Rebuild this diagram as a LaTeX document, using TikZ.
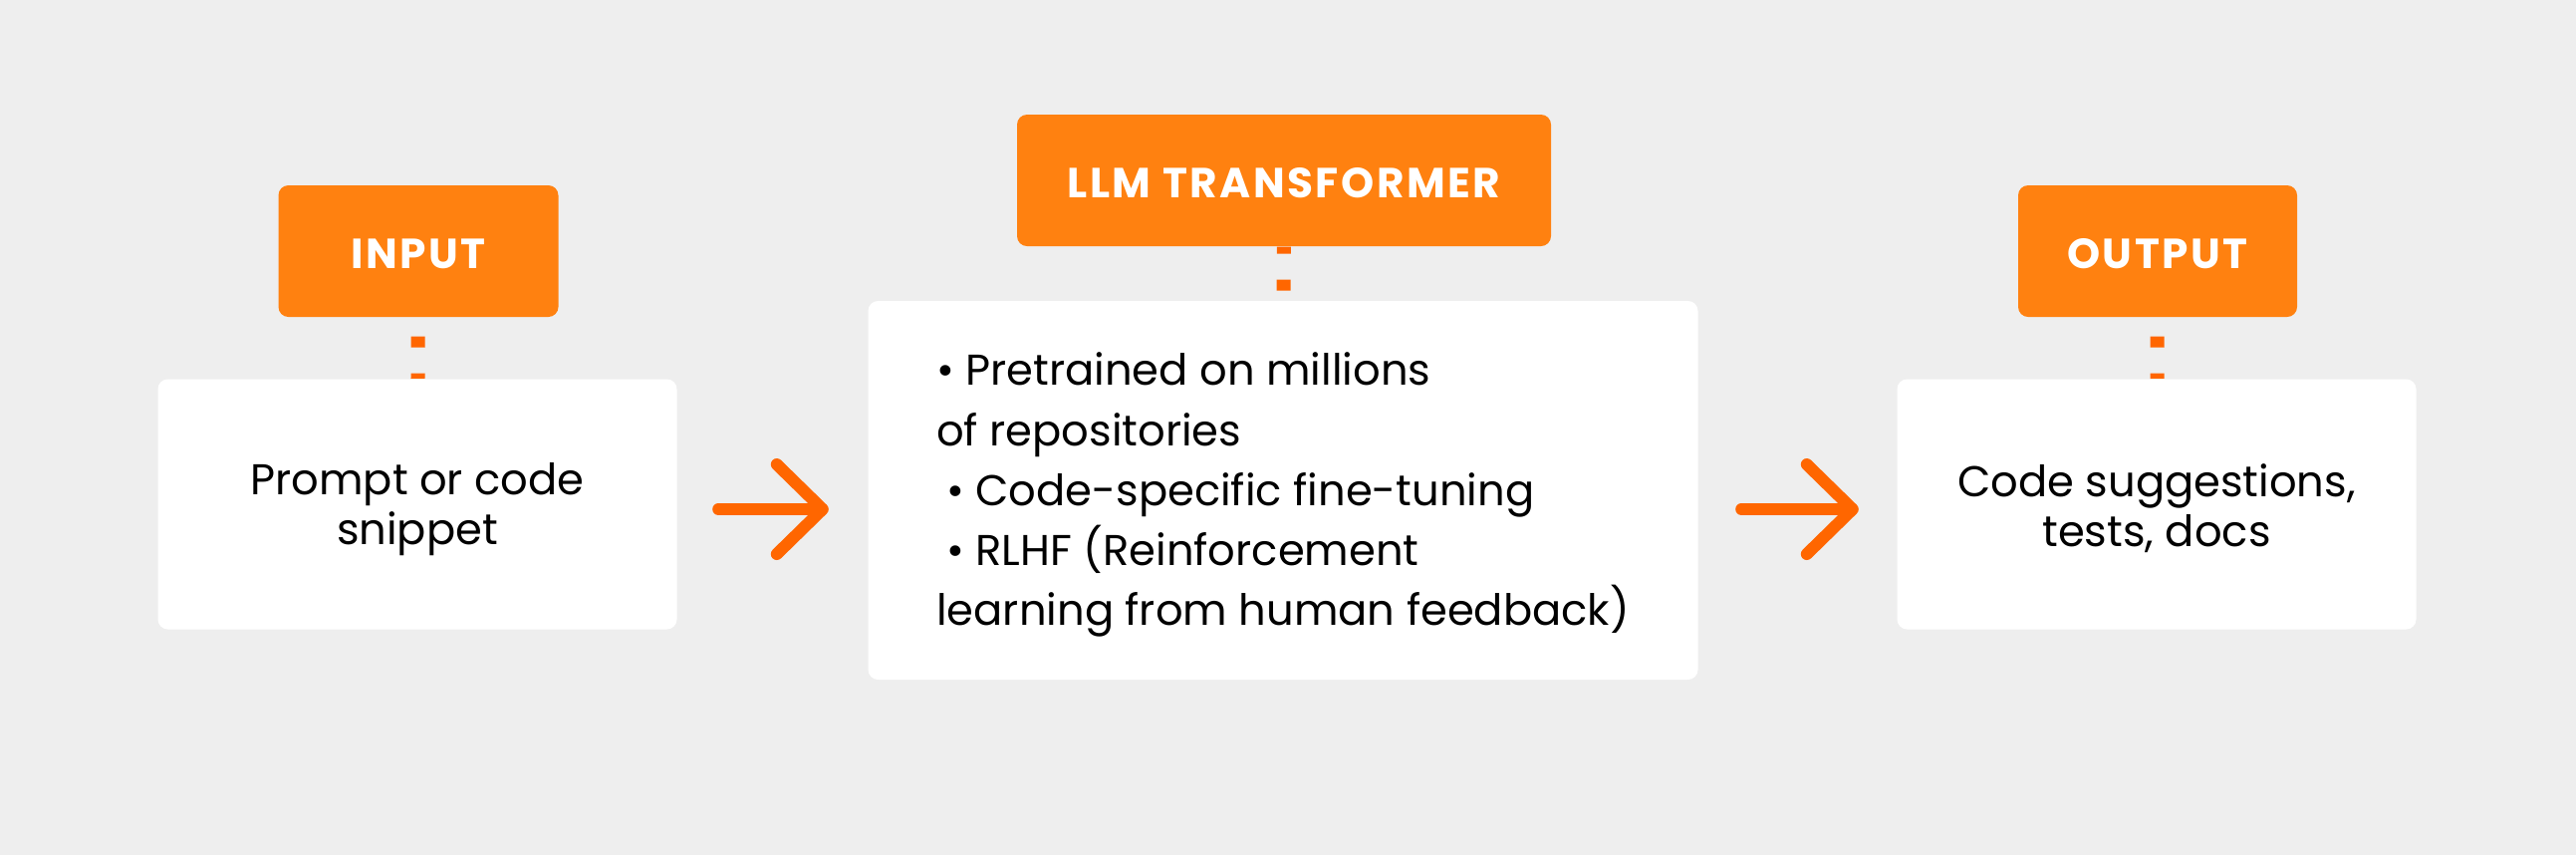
\documentclass[tikz,border=0pt]{standalone}
\usepackage{fontspec}
\setmainfont{Poppins}
\newfontfamily\tagfont[LetterSpace=6]{Poppins}
\usetikzlibrary{arrows.meta}
\definecolor{pagegray}{HTML}{EEEEEE}
\definecolor{tagorange}{HTML}{FF8110}
\definecolor{linkorange}{HTML}{FF6600}
\newcommand{\lowerby}{\rule{0pt}{4.2mm}}
\tikzset{
  tag/.style={rectangle, rounded corners=1mm, fill=tagorange, text=white,
    font=\fontsize{12}{14}\tagfont\bfseries, inner sep=0pt, minimum height=13.2mm,
    text height=3.4mm, text depth=0pt},
  card/.style={rectangle, rounded corners=1mm, fill=white, inner sep=0pt,
    font=\fontsize{12.3}{14.2}\selectfont, align=center},
  link/.style={linkorange, line width=1.4mm, dash pattern=on 1.1mm off 2.6mm},
  flow/.style={linkorange, line width=1.2mm, line cap=round, line join=round,
    -{Straight Barb[length=4.6mm, width=9mm, round]}}
}
\begin{document}
\begin{tikzpicture}[x=0.1mm, y=-0.1mm]
\fill[pagegray] (0,0) rectangle (2586,858);
\useasboundingbox (0,0) rectangle (2586,858);
% labels
\node[tag, minimum width=28.1mm] (input) at (420,252){INPUT};
\node[tag, minimum width=53.6mm] (llm) at (1289,181){LLM TRANSFORMER};
\node[tag, minimum width=28mm] (output) at (2166,252){OUTPUT};
% cards
\node[card, minimum width=52.1mm, minimum height=25.1mm] (prompt) at (419,506){\lowerby Prompt or code\\snippet};
\node[card, minimum width=83.3mm, minimum height=38mm, align=left,
  font=\fontsize{12.3}{17.1}\selectfont] (training) at (1288,492){\lowerby\textbullet\ Pretrained on millions\\of repositories\\\hspace*{1mm}\textbullet\ Code-specific fine-tuning\\\hspace*{1mm}\textbullet\ RLHF (Reinforcement\\learning from human feedback)};
\node[card, minimum width=52.1mm, minimum height=25.1mm] (result) at (2165,506){\lowerby Code suggestions,\\tests, docs};
% dotted links
\draw[link, dash phase=1.8mm](input) -- (prompt);
\draw[link, dash phase=0.4mm](llm) -- (training);
\draw[link, dash phase=1.8mm](output) -- (result);
% arrows
\draw[flow]([shift={(41,5)}]prompt.east) -- ([shift={(-39,19)}]training.west);
\draw[flow]([shift={(43,19)}]training.east) -- ([shift={(-38,5)}]result.west);
\end{tikzpicture}
\end{document}
